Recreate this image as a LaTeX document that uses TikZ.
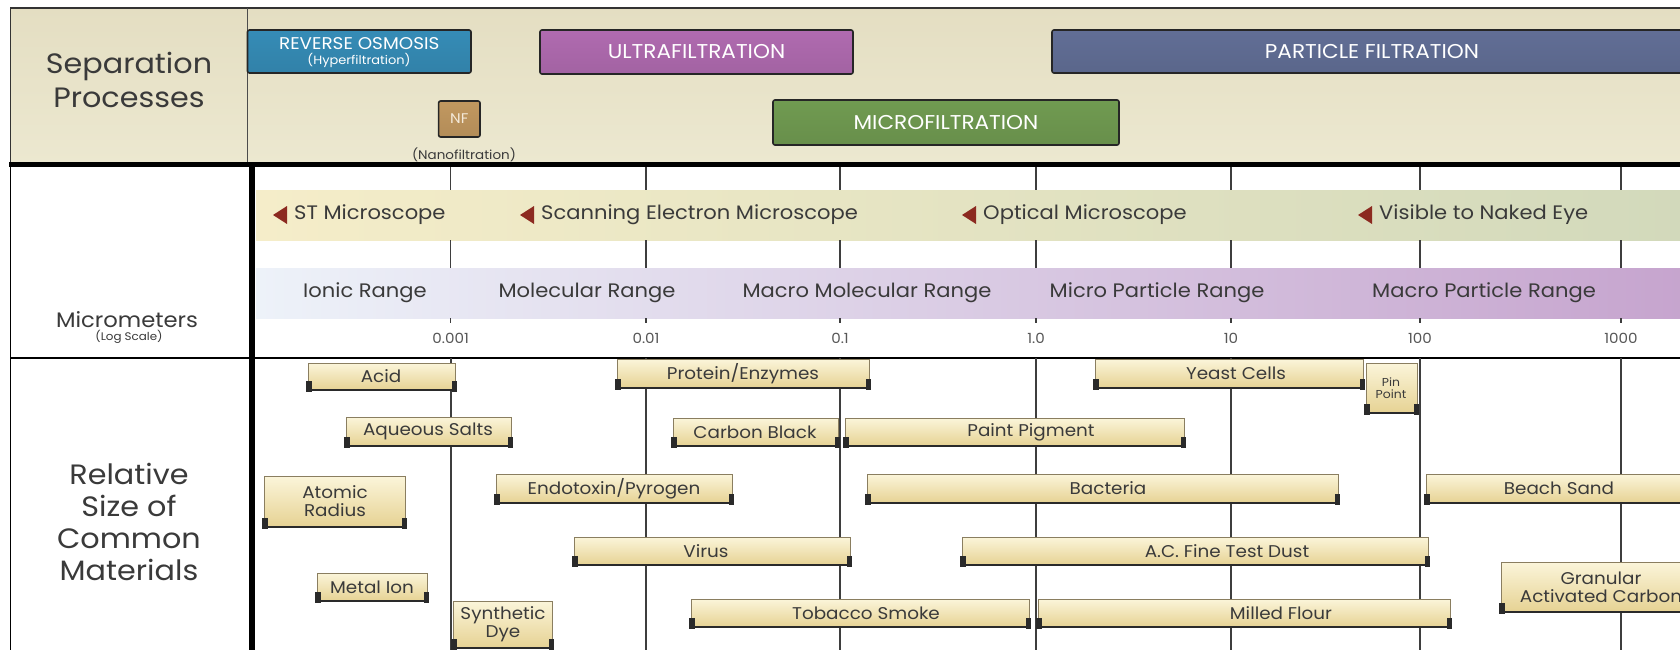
\documentclass[tikz,border=0pt]{standalone}
\usepackage{fontspec}
\setmainfont{Poppins}[FakeStretch=1.08]
\usepackage{tikz}
\usetikzlibrary{calc}
\definecolor{ink}{HTML}{3A3A3A}
\definecolor{panetop}{HTML}{E4DEC2}
\definecolor{panemid}{HTML}{F8F6E8}
\definecolor{panebot}{HTML}{ECE8D0}
\definecolor{rocol}{HTML}{3A98C6}
\definecolor{ufcol}{HTML}{BF74BF}
\definecolor{pfcol}{HTML}{6A78A3}
\definecolor{mfcol}{HTML}{7AA858}
\definecolor{nfcol}{HTML}{D2A568}
\definecolor{scopeleft}{HTML}{F5EDC9}
\definecolor{scoperight}{HTML}{D2D9BB}
\definecolor{rangeleft}{HTML}{EDF2F9}
\definecolor{rangemid}{HTML}{DACDE6}
\definecolor{rangeright}{HTML}{C6A4CE}
\definecolor{tipcol}{HTML}{8C2A20}
\definecolor{barlight}{HTML}{FBF5DA}
\definecolor{bardark}{HTML}{E6D293}
\definecolor{baredge}{HTML}{8A7E60}
\definecolor{barfoot}{HTML}{2A2A2A}
\definecolor{decadecol}{HTML}{3E3E3E}

\newcommand{\procbar}[8][]{%
  \path[shade, top color=#7!92!black, middle color=#7!50!white, bottom color=#7!85!black, draw=black!85, line width=1.6pt, rounded corners=2pt] (#3,#4) rectangle (#5,#6);
  \node[proctext,#1] (#2) at ({(#3+#5)/2},{(#4+#6)/2}) {#8};}
\newcommand{\scopelabel}[3]{%
  \fill[tipcol] (#2,215) -- ++(14,-9) -- ++(0,18) -- cycle;
  \node[scopetext] (#1) at ({#2+21},215) {#3};}
\newcommand{\matbar}[8][]{%
  \path[shade, top color=barlight, bottom color=bardark, draw=baredge, line width=0.6pt] (#3,#4) rectangle (#5,#6);
  \draw[barfoot, line width=2.4pt] (#3,#6) -- (#5,#6);
  \fill[barfoot] ({#3-2},{#6+1.5}) rectangle ({#3+3.5},{#6-9});
  \fill[barfoot] ({#5-3.5},{#6+1.5}) rectangle ({#5+2},{#6-9});
  \node[mattext,#1] (#2) at (#7,{(#4+#6)/2}) {#8};}

\begin{document}
\begin{tikzpicture}[x=1pt, y=-1pt,
    every node/.style={text=ink, inner sep=0pt},
    headtext/.style={font=\fontsize{28}{34}\selectfont, align=center},
    midhead/.style={font=\fontsize{21}{21}\selectfont},
    subtext/.style={font=\fontsize{11}{11}\selectfont},
    proctext/.style={text=white, font=\fontsize{20}{20}\selectfont, align=center},
    scopetext/.style={font=\fontsize{19.5}{19.5}\selectfont, anchor=west},
    rangetext/.style={font=\fontsize{19.5}{19.5}\selectfont},
    ticklabel/.style={font=\fontsize{14}{14}\selectfont, text=ink!85},
    mattext/.style={font=\fontsize{17}{18}\selectfont, align=center},
    tickline/.style={draw=decadecol, line width=1.5pt},
    decade/.style={draw=decadecol, line width=2pt}]
  \useasboundingbox (0,0) rectangle (1680,650);
  \clip (0,0) rectangle (1680,650);
  \fill[white] (0,0) rectangle (1680,650);

  \path[shade, top color=panetop, middle color=panemid, bottom color=panebot, draw=black!80, line width=1.2pt] (10.7,8) rectangle (1700,163);
  \draw[black!70, line width=0.8pt] (247.5,8) -- (247.5,163);
  \node[headtext] (sephead) at (129,80) {Separation\\Processes};

  \procbar[yshift=8pt, font=\fontsize{17}{17}\selectfont]{ro}{247.5}{30}{471}{73}{rocol}{REVERSE OSMOSIS}
  \node[subtext, text=white, font=\fontsize{12}{12}\selectfont] (rosub) at (359,60) {(Hyperfiltration)};
  \procbar{uf}{540}{30}{853}{74}{ufcol}{ULTRAFILTRATION}
  \procbar{pf}{1052}{30}{1692}{73}{pfcol}{PARTICLE FILTRATION}
  \procbar{mf}{773}{100}{1119}{145}{mfcol}{MICROFILTRATION}
  \procbar[font=\fontsize{14}{14}\selectfont, text=white!75!nfcol]{nf}{438.6}{101}{480}{137}{nfcol}{NF}
  \node[subtext, font=\fontsize{12.5}{12.5}\selectfont] (nflabel) at (464,155) {(Nanofiltration)};

  \draw[black, line width=5pt] (9,164.5) -- (1690,164.5);
  \draw[black, line width=1.2pt] (10.7,164) -- (10.7,660);
  \path[shade, left color=scopeleft, right color=scoperight] (256,190) rectangle (1690,240);
  \path[shade, left color=rangeleft, middle color=rangemid, right color=rangeright] (256,268) rectangle (1690,318);
  \draw[black, line width=1.6pt] (10.7,358) -- (1690,358);
  \draw[black, line width=6pt] (252,162) -- (252,660);

  \foreach \x/\lab [count=\i] in {450.7/0.001,646/0.01,840/0.1,1036/1.0,1231/10,1420/100,1621/1000}{
    \draw[tickline] (\x,167) -- (\x,190) (\x,240) -- (\x,268) (\x,318) -- (\x,323);
    \node[ticklabel] (tick\i) at (\x,338) {\lab};
    \draw[decade] (\x,358) -- (\x,660);
  }

  \scopelabel{stm}{273}{ST Microscope}
  \scopelabel{sem}{520}{Scanning Electron Microscope}
  \scopelabel{optm}{962}{Optical Microscope}
  \scopelabel{eye}{1358}{Visible to Naked Eye}

  \node[rangetext] (ionic) at (365,293) {Ionic Range};
  \node[rangetext] (molecular) at (587,293) {Molecular Range};
  \node[rangetext] (macromol) at (867,293) {Macro Molecular Range};
  \node[rangetext] (microp) at (1157,293) {Micro Particle Range};
  \node[rangetext] (macrop) at (1484,293) {Macro Particle Range};

  \node[midhead] (micro) at (127,320) {Micrometers};
  \node[subtext] (logscale) at (129,337) {(Log Scale)};
  \node[headtext, font=\fontsize{28}{32}\selectfont] (relsize) at (129,522) {Relative\\Size of\\Common\\Materials};

  \matbar{acid}{308}{363}{455}{390}{381}{Acid}
  \matbar{salts}{346}{417}{511}{446}{428}{Aqueous Salts}
  \matbar{atomic}{264}{476}{405}{527}{335}{Atomic\\Radius}
  \matbar{metalion}{317}{573}{427}{601}{372}{Metal Ion}
  \matbar{dye}{453}{601}{552}{648}{503}{Synthetic\\Dye}
  \matbar{protein}{617}{359}{869}{388}{743}{Protein/Enzymes}
  \matbar{carbonblack}{673}{418}{838}{446}{755}{Carbon Black}
  \matbar{paint}{845}{418}{1184}{446}{1031}{Paint Pigment}
  \matbar{endotoxin}{496}{474}{732}{503}{614}{Endotoxin/Pyrogen}
  \matbar{bacteria}{867}{474}{1338}{503}{1108}{Bacteria}
  \matbar{virus}{574}{537}{850}{565}{706}{Virus}
  \matbar{dust}{962}{537}{1428}{565}{1227}{A.C. Fine Test Dust}
  \matbar{smoke}{691}{599}{1029}{627}{866}{Tobacco Smoke}
  \matbar{flour}{1038}{599}{1450}{627}{1281}{Milled Flour}
  \matbar{yeast}{1095}{359}{1363}{388}{1236}{Yeast Cells}
  \matbar[font=\fontsize{11.5}{12}\selectfont]{pinpoint}{1366}{363}{1417}{413}{1391}{Pin\\Point}
  \matbar{beach}{1426}{474}{1693}{503}{1559}{Beach Sand}
  \matbar{granular}{1501}{562}{1701}{612}{1601}{Granular\\Activated Carbon}
\end{tikzpicture}
\end{document}
